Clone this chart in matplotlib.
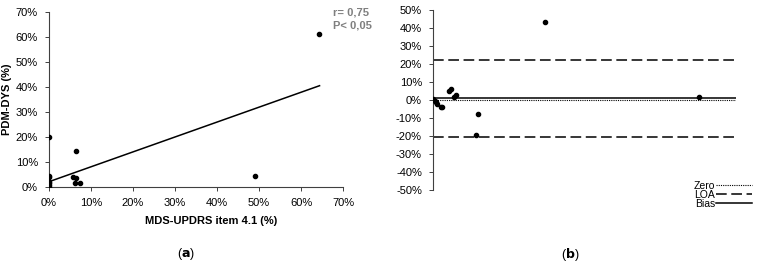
import numpy as np
import matplotlib.pyplot as plt
from matplotlib.ticker import FuncFormatter

plt.rcParams['font.family'] = ['Liberation Sans', 'DejaVu Sans']

# (a) correlation data, in %
mds_updrs = [0, 0, 0, 0, 0, 0, 0, 5.7, 6.5, 6.5, 6.1, 7.3, 49.1, 64.3]
pdm_dys = [20, 4.3, 3.7, 2.0, 1.3, 0.7, 0, 4.0, 14.3, 3.6, 1.3, 1.3, 4.4, 61.0]
fit_x = [0, 64.4]
fit_y = [2.0, 40.4]

# (b) Bland-Altman data, in %
ba_mean = [0, 0.35, 0.65, 1.0, 1.85, 2.0, 3.6, 4.2, 4.8, 5.2, 10.0, 10.3, 25.9, 61.5]
ba_diff = [0.3, -0.7, -1.3, -2.0, -3.7, -4.2, 5.2, 6.1, 1.9, 2.8, -19.4, -7.8, 43.5, 1.7]
bias = 0.9
loa_upper = 22.0
loa_lower = -20.7

pct = FuncFormatter(lambda v, p: f'{v:.0f}%')

fig = plt.figure(figsize=(7.59, 2.69), dpi=100)

# ---- panel a
ax1 = fig.add_axes([0.0646, 0.306, 0.3874, 0.6505])
ax1.scatter(mds_updrs, pdm_dys, s=9, color='black', zorder=3)
ax1.plot(fit_x, fit_y, color='black', linewidth=1.1)
ax1.set_xlim(0, 70)
ax1.set_ylim(0, 70)
ax1.set_xticks(np.arange(0, 71, 10))
ax1.set_yticks(np.arange(0, 71, 10))
ax1.xaxis.set_major_formatter(pct)
ax1.yaxis.set_major_formatter(pct)
for s in ['top', 'right']:
    ax1.spines[s].set_visible(False)
for s in ['left', 'bottom']:
    ax1.spines[s].set_color('#404040')
    ax1.spines[s].set_linewidth(0.8)
ax1.tick_params(labelsize=8, length=3, width=0.7, color='#404040')
ax1.tick_params(axis='y', pad=5)
ax1.tick_params(axis='x', pad=5)
ax1.set_xlabel('MDS-UPDRS item 4.1 (%)', fontsize=8, fontweight='bold')
ax1.xaxis.set_label_coords(0.55, -0.17)
ax1.set_ylabel('PDM-DYS (%)', fontsize=8, fontweight='bold', labelpad=3)
fig.text(0.439, 0.955, 'r= 0,75', fontsize=8, fontweight='bold', color='#7f7f7f', va='center')
fig.text(0.439, 0.905, 'P< 0,05', fontsize=8, fontweight='bold', color='#7f7f7f', va='center')

# ---- panel b
ax2 = fig.add_axes([0.5705, 0.294, 0.3995, 0.669])
ax2.scatter(ba_mean, ba_diff, s=9, color='black', zorder=3)
ax2.plot([0, 70], [0, 0], color='black', linestyle=(0, (1, 1)), linewidth=0.8, label='Zero')
ax2.plot([0, 70], [loa_upper, loa_upper], color='black', linestyle=(0, (7, 3)), linewidth=1.1, label='LOA')
ax2.plot([0, 70], [loa_lower, loa_lower], color='black', linestyle=(0, (7, 3)), linewidth=1.1)
ax2.plot([0, 70], [bias, bias], color='black', linewidth=1.1, label='Bias')
ax2.set_xlim(0, 70)
ax2.set_ylim(-50, 50)
ax2.set_yticks(np.arange(-50, 51, 10))
ax2.yaxis.set_major_formatter(pct)
ax2.set_xticks([])
for s in ['top', 'right', 'bottom']:
    ax2.spines[s].set_visible(False)
ax2.spines['left'].set_color('#404040')
ax2.spines['left'].set_linewidth(0.8)
ax2.tick_params(axis='y', labelsize=8, length=3, width=0.7, color='#404040', pad=5)

h, l = ax2.get_legend_handles_labels()
leg = fig.legend(h, l, loc='upper right', bbox_to_anchor=(1.0, 0.355), frameon=False,
                 markerfirst=False, fontsize=7.5, handlelength=3.4, handletextpad=0.1,
                 labelspacing=-0.1, borderpad=0.2)

fig.text(0.245, 0.055, r'($\mathbf{a}$)', fontsize=9, ha='center', va='center')
fig.text(0.751, 0.055, r'($\mathbf{b}$)', fontsize=9, ha='center', va='center')

fig.savefig('out.png', dpi=100)
